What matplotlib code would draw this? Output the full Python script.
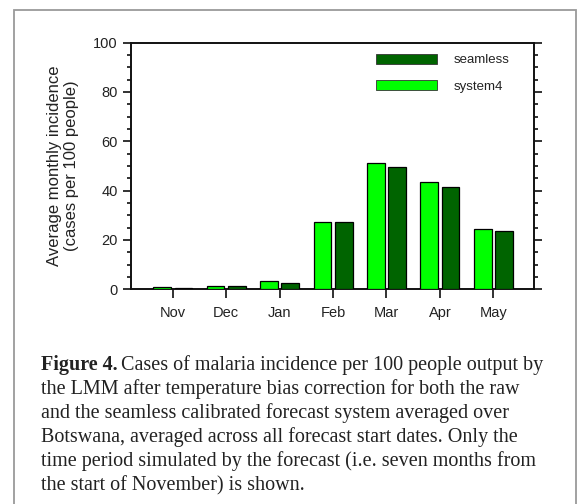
import numpy as np
from matplotlib import pyplot as plt
from matplotlib.patches import Rectangle, Patch
from matplotlib.ticker import MultipleLocator

months = ['Nov', 'Dec', 'Jan', 'Feb', 'Mar', 'Apr', 'May']
system4 = [1.0, 1.2, 3.5, 27.4, 51.1, 43.3, 24.3]
seamless = [0.7, 1.4, 2.7, 27.1, 49.4, 41.5, 23.8]

caption_head = 'Figure 4.'
caption_lines = [
    'Cases of malaria incidence per 100 people output by',
    'the LMM after temperature bias correction for both the raw',
    'and the seamless calibrated forecast system averaged over',
    'Botswana, averaged across all forecast start dates. Only the',
    'time period simulated by the forecast (i.e. seven months from',
    'the start of November) is shown.',
]

light = '#00ff00'
dark = '#006400'
ink = '#222222'

plt.rcParams['font.family'] = 'Liberation Sans'
plt.rcParams['text.color'] = ink
plt.rcParams['axes.labelcolor'] = ink
plt.rcParams['xtick.color'] = ink
plt.rcParams['ytick.color'] = ink

W, H = 582, 504
fig = plt.figure(figsize=(W / 100, H / 100), dpi=100)
ax = fig.add_axes([131 / W, 1 - 289.3 / H, (534 - 131) / W, (289.3 - 42.6) / H])

x = np.arange(len(months))
bw = 0.33
ax.bar(x - 0.2, system4, bw, color=light, edgecolor='black', linewidth=0.9, zorder=3)
ax.bar(x + 0.2, seamless, bw, color=dark, edgecolor='black', linewidth=0.9, zorder=3)

ax.set_xlim(-0.78, 6.76)
ax.set_ylim(0, 100)
ax.set_xticks(x)
ax.set_xticklabels(months, fontsize=10.5)
ax.yaxis.set_major_locator(MultipleLocator(20))
ax.yaxis.set_minor_locator(MultipleLocator(5))
ax.tick_params(axis='y', which='both', left=True, right=True, direction='out', width=1.3)
ax.tick_params(axis='y', which='major', length=5.5, pad=4, labelsize=10.5)
ax.tick_params(axis='y', which='minor', length=3)
ax.tick_params(axis='x', which='major', bottom=True, top=False, direction='out',
               length=6.5, width=1.3, pad=5.5)
for sp in ax.spines.values():
    sp.set_linewidth(1.4)
    sp.set_color('#111111')

ax.set_ylabel('Average monthly incidence\n(cases per 100 people)', fontsize=12,
              labelpad=10, linespacing=1.15)

handles = [Patch(facecolor=dark, edgecolor='#333333', linewidth=0.6),
           Patch(facecolor=light, edgecolor='#333333', linewidth=0.6)]
leg = ax.legend(handles, ['seamless', 'system4'], loc='upper left',
                bbox_to_anchor=(0.608, 0.955), frameon=False, fontsize=9.5,
                handlelength=4.6, handleheight=0.8, handletextpad=1.3,
                labelspacing=1.05, borderpad=0, borderaxespad=0)

# grey frame round the whole figure
fig.add_artist(Rectangle((14 / W, -0.05), (576 - 14) / W, 1.05 - 10 / H,
                         transform=fig.transFigure, fill=False,
                         edgecolor='#9a9a9a', linewidth=1.3))

# caption
cx = 40.7 / W
base0 = 370
step = 24.1
fig.canvas.draw()
r = fig.canvas.get_renderer()
head = fig.text(cx, 1 - base0 / H, caption_head, family='Liberation Serif',
                weight='bold', fontsize=14.5, va='baseline', ha='left', color=ink)
hw = head.get_window_extent(r).width
for i, line in enumerate(caption_lines):
    xx = cx + (hw + 4) / W if i == 0 else cx
    fig.text(xx, 1 - (base0 + i * step) / H, line, family='Liberation Serif',
             fontsize=14.5, va='baseline', ha='left', color=ink)

fig.savefig('out.png', dpi=100)
